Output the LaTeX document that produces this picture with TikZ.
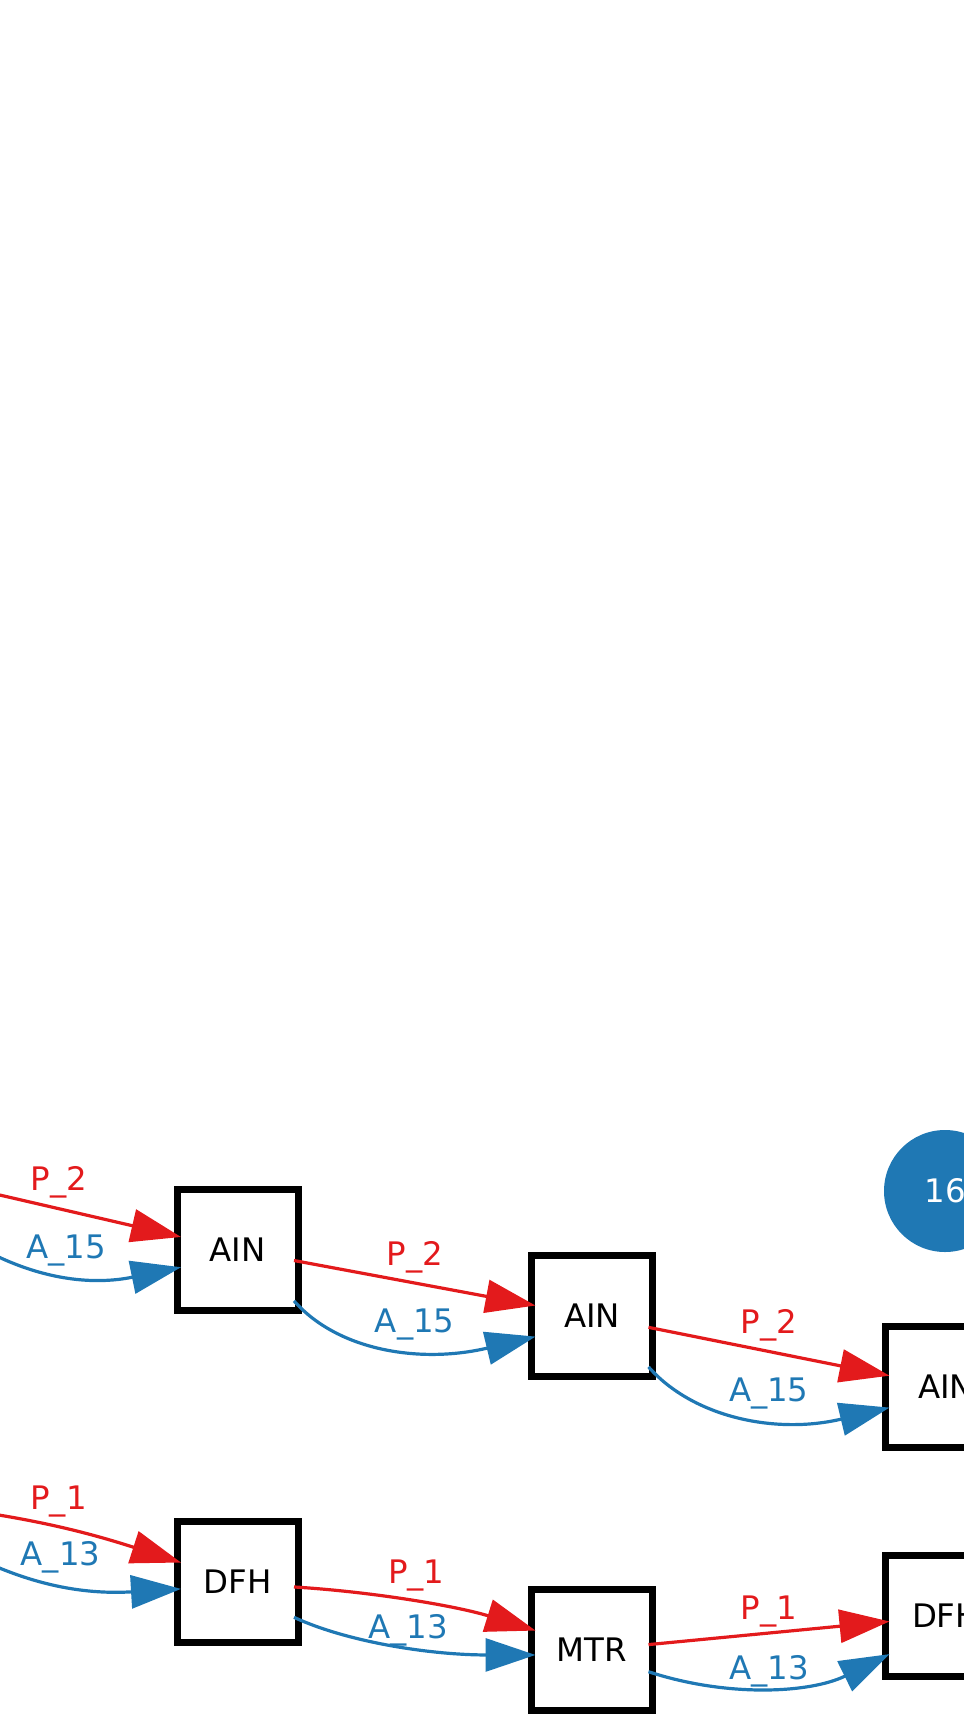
\documentclass[tikz,border=0pt]{standalone}
\usepackage{fontspec}
\setmainfont{DejaVu Sans}
\usepackage{xcolor}
\usepackage{tikz}
\usetikzlibrary{arrows.meta}
\definecolor{pred}{HTML}{E31A1C}
\definecolor{ablue}{HTML}{1F78B4}
\newcommand{\labfont}{\fontsize{16.2}{19}\selectfont}
\tikzset{
  blk/.style={draw, line width=3.5pt, fill=white, minimum size=60.5pt,
              inner sep=0pt, outer sep=-2pt, font=\labfont},
  hub/.style={circle, fill=ablue, text=white, minimum size=61pt,
              inner sep=0pt, font=\labfont},
  parrow/.style={draw=pred, line width=1.6pt, -{Triangle[length=25pt,width=16.5pt]}},
  aarrow/.style={draw=ablue, line width=1.6pt, -{Triangle[length=25pt,width=16.5pt]}},
  plab/.style={anchor=base, yshift=9pt, text=pred, font=\labfont},
  alab/.style={anchor=base, yshift=9pt, text=ablue, font=\labfont}
}

\begin{document}
\begin{tikzpicture}[x=0.5pt, y=-0.5pt]
\useasboundingbox (0,0) rectangle (964,1730);
\clip (0,0) rectangle (964,1730);
% upper chain
\coordinate (ain0) at (-117,1168);
\node[blk] (ain1) at (237.5,1250) {AIN};
\node[blk] (ain2) at (592,1316) {AIN};
\node[blk] (ain3) at (946,1387) {AIN};
\node[hub] (n16) at (945,1191) {16};
% lower chain
\coordinate (dfh0) at (-117,1500);
\node[blk] (dfh1) at (237.5,1582) {DFH};
\node[blk] (mtr) at (592,1650) {MTR};
\node[blk] (dfh2) at (946,1616) {DFH};

\draw[parrow] (ain0) -- node[plab, pos=.59] {P\_2} (ain1);
\draw[aarrow] (ain0) to[bend right=30] node[alab, pos=.66, yshift=-2pt] {A\_15} (ain1);
\draw[parrow] (ain1) -- node[plab, midway] {P\_2} (ain2);
\draw[aarrow] (ain1.-42) .. controls +(45,51) and +(-113,27) .. node[alab, pos=.6] {A\_15} (ain2.200);
\draw[parrow] (ain2) -- node[plab, midway] {P\_2} (ain3);
\draw[aarrow] (ain2.-42) .. controls +(45,51) and +(-113,27) .. node[alab, pos=.6] {A\_15} (ain3.200);

\draw[parrow] (dfh0) to[bend left=6] node[plab, pos=.59] {P\_1} (dfh1);
\draw[aarrow] (dfh0) to[bend right=20] node[alab, pos=.63] {A\_13} (dfh1);
\draw[parrow] (dfh1.-5) .. controls +(81,5) and +(-77,-24) .. node[plab, midway] {P\_1} (mtr.161);
\draw[aarrow] (dfh1.-32) .. controls +(54,25) and +(-104,0) .. node[alab, pos=.55, yshift=-4.5pt] {A\_13} (mtr.185);
\draw[parrow] (mtr) -- node[plab, midway, yshift=-2pt] {P\_1} (dfh2);
\draw[aarrow] (mtr.-21) .. controls +(79,26) and +(-79,39) .. node[alab, midway, yshift=-5pt] {A\_13} (dfh2.214);
\end{tikzpicture}
\end{document}
